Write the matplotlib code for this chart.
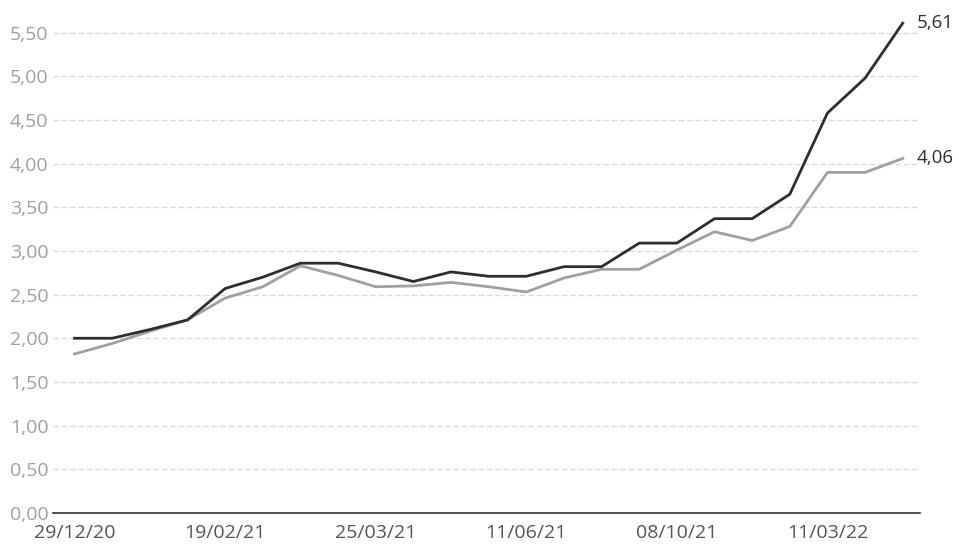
import numpy as np
import matplotlib
matplotlib.use('Agg')
from matplotlib import pyplot as plt
from matplotlib.ticker import FuncFormatter

# weekly observations, two series
tick_labels = ['29/12/20', '19/02/21', '25/03/21', '11/06/21', '08/10/21', '11/03/22']
tick_step = 4

dark_series = [2.00, 2.00, 2.10, 2.21, 2.57, 2.70, 2.86, 2.86, 2.76, 2.65, 2.76, 2.71,
               2.71, 2.82, 2.82, 3.09, 3.09, 3.37, 3.37, 3.65, 4.58, 4.98, 5.61]
grey_series = [1.82, 1.94, 2.08, 2.21, 2.46, 2.59, 2.83, 2.72, 2.59, 2.60, 2.64, 2.59,
               2.53, 2.69, 2.79, 2.79, 3.01, 3.22, 3.12, 3.28, 3.90, 3.90, 4.06]


def comma(v: float, _pos=None) -> str:
    return f'{v:.2f}'.replace('.', ',')


plt.rcParams['font.family'] = ['Open Sans', 'DejaVu Sans']

fig = plt.figure(figsize=(9.59, 5.45), dpi=100)
ax = fig.add_axes((0.055, 0.059, 0.904, 0.921))

x = np.arange(len(dark_series))
ax.plot(x, grey_series, color='#a0a0a0', lw=2.0, zorder=3)
ax.plot(x, dark_series, color='#2e2e2e', lw=2.0, zorder=4)

# end-of-line value labels
for series in (dark_series, grey_series):
    ax.annotate(comma(series[-1]), xy=(x[-1], series[-1]), xytext=(10, 0),
                textcoords='offset points', va='center', ha='left',
                fontsize=13.5, color='#2e2e2e')

ax.set_xlim(-0.58, len(x) - 1 + 0.45)
ax.set_ylim(0, 5.75)
ax.set_yticks(np.arange(0, 5.51, 0.5))
ax.yaxis.set_major_formatter(FuncFormatter(comma))

ax.set_xticks(x[::tick_step][:len(tick_labels)])
ax.set_xticklabels(tick_labels)

ax.grid(axis='y', color='#dadada', lw=1.0, ls=(0, (4, 2)))
ax.set_axisbelow(True)
for side in ('top', 'right', 'left'):
    ax.spines[side].set_visible(False)
ax.spines['bottom'].set_color('#333333')
ax.spines['bottom'].set_linewidth(1.2)

ax.tick_params(axis='y', length=0, pad=3, labelsize=14, labelcolor='#a0a0a0')
ax.tick_params(axis='x', length=0, pad=8, labelsize=14, labelcolor='#555555')

fig.savefig('out.png', dpi=100, facecolor='white')
